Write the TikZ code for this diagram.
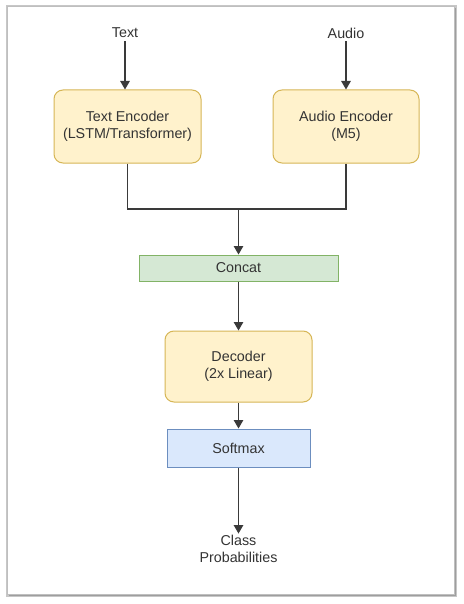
\documentclass[tikz,border=0pt]{standalone}
\usepackage{fontspec}
\setmainfont{Liberation Sans}
\usetikzlibrary{arrows.meta}
\definecolor{yfill}{HTML}{FFF2CC}
\definecolor{ydraw}{HTML}{D6B656}
\definecolor{gfill}{HTML}{D5E8D4}
\definecolor{gdraw}{HTML}{82B366}
\definecolor{bfill}{HTML}{DAE8FC}
\definecolor{bdraw}{HTML}{6C8EBF}
\definecolor{txt}{HTML}{333333}
\definecolor{ln}{HTML}{3A3A3A}
\tikzset{
  box/.style={draw, line width=1pt, align=center, text=txt, inner sep=0pt,
    font=\fontsize{14.3}{17}\selectfont},
  ybox/.style={box, fill=yfill, draw=ydraw, rounded corners=9pt},
  gbox/.style={box, fill=gfill, draw=gdraw},
  bbox/.style={box, fill=bfill, draw=bdraw},
  lbl/.style={align=center, text=txt, inner sep=1pt, font=\fontsize{14.3}{17}\selectfont},
  conn/.style={draw=ln, line width=1.2pt},
  arr/.style={conn, -{Triangle[length=8.5pt,width=9.5pt]}, shorten >=0pt},
}
\begin{document}
\begin{tikzpicture}[x=1pt,y=-1pt]
\useasboundingbox (0,0) rectangle (463,604);
% frame with shadow
\fill[black!22] (6,5) rectangle (457,597);
\fill[black!38] (9,8) rectangle (456,596);
\fill[white, draw=black!25, line width=0.8pt] (7,6) rectangle (454,594);

\node[lbl] (tin) at (125,33) {Text};
\node[lbl] (ain) at (346,33) {Audio};
\node[ybox, minimum width=147pt, minimum height=73pt] (tenc) at (127.5,126.5) {Text Encoder\\(LSTM/Transformer)};
\node[ybox, minimum width=146pt, minimum height=73pt] (aenc) at (346,126.5) {Audio Encoder\\(M5)};
\node[gbox, minimum width=199pt, minimum height=26pt] (cat) at (238.5,268) {Concat};
\node[ybox, minimum width=147pt, minimum height=71pt] (dec) at (238.5,366.5) {Decoder\\(2x Linear)};
\node[bbox, minimum width=143pt, minimum height=38pt] (sm) at (238.5,448) {Softmax};
\node[lbl] (out) at (238.5,548.5) {Class\\Probabilities};

\coordinate (j) at (238.5,209);
\draw[arr] ([yshift=-2pt]tin.south) -- (tin.south |- tenc.north);
\draw[arr] ([yshift=-2pt]ain.south) -- (ain.south |- aenc.north);
\draw[conn] (tenc.south) |- (j);
\draw[conn] (aenc.south) |- (j);
\draw[arr] (j) -- (cat.north);
\draw[arr] (cat.south) -- (dec.north);
\draw[arr] (dec.south) -- (sm.north);
\draw[arr] (sm.south) -- (out.north);
\end{tikzpicture}
\end{document}
